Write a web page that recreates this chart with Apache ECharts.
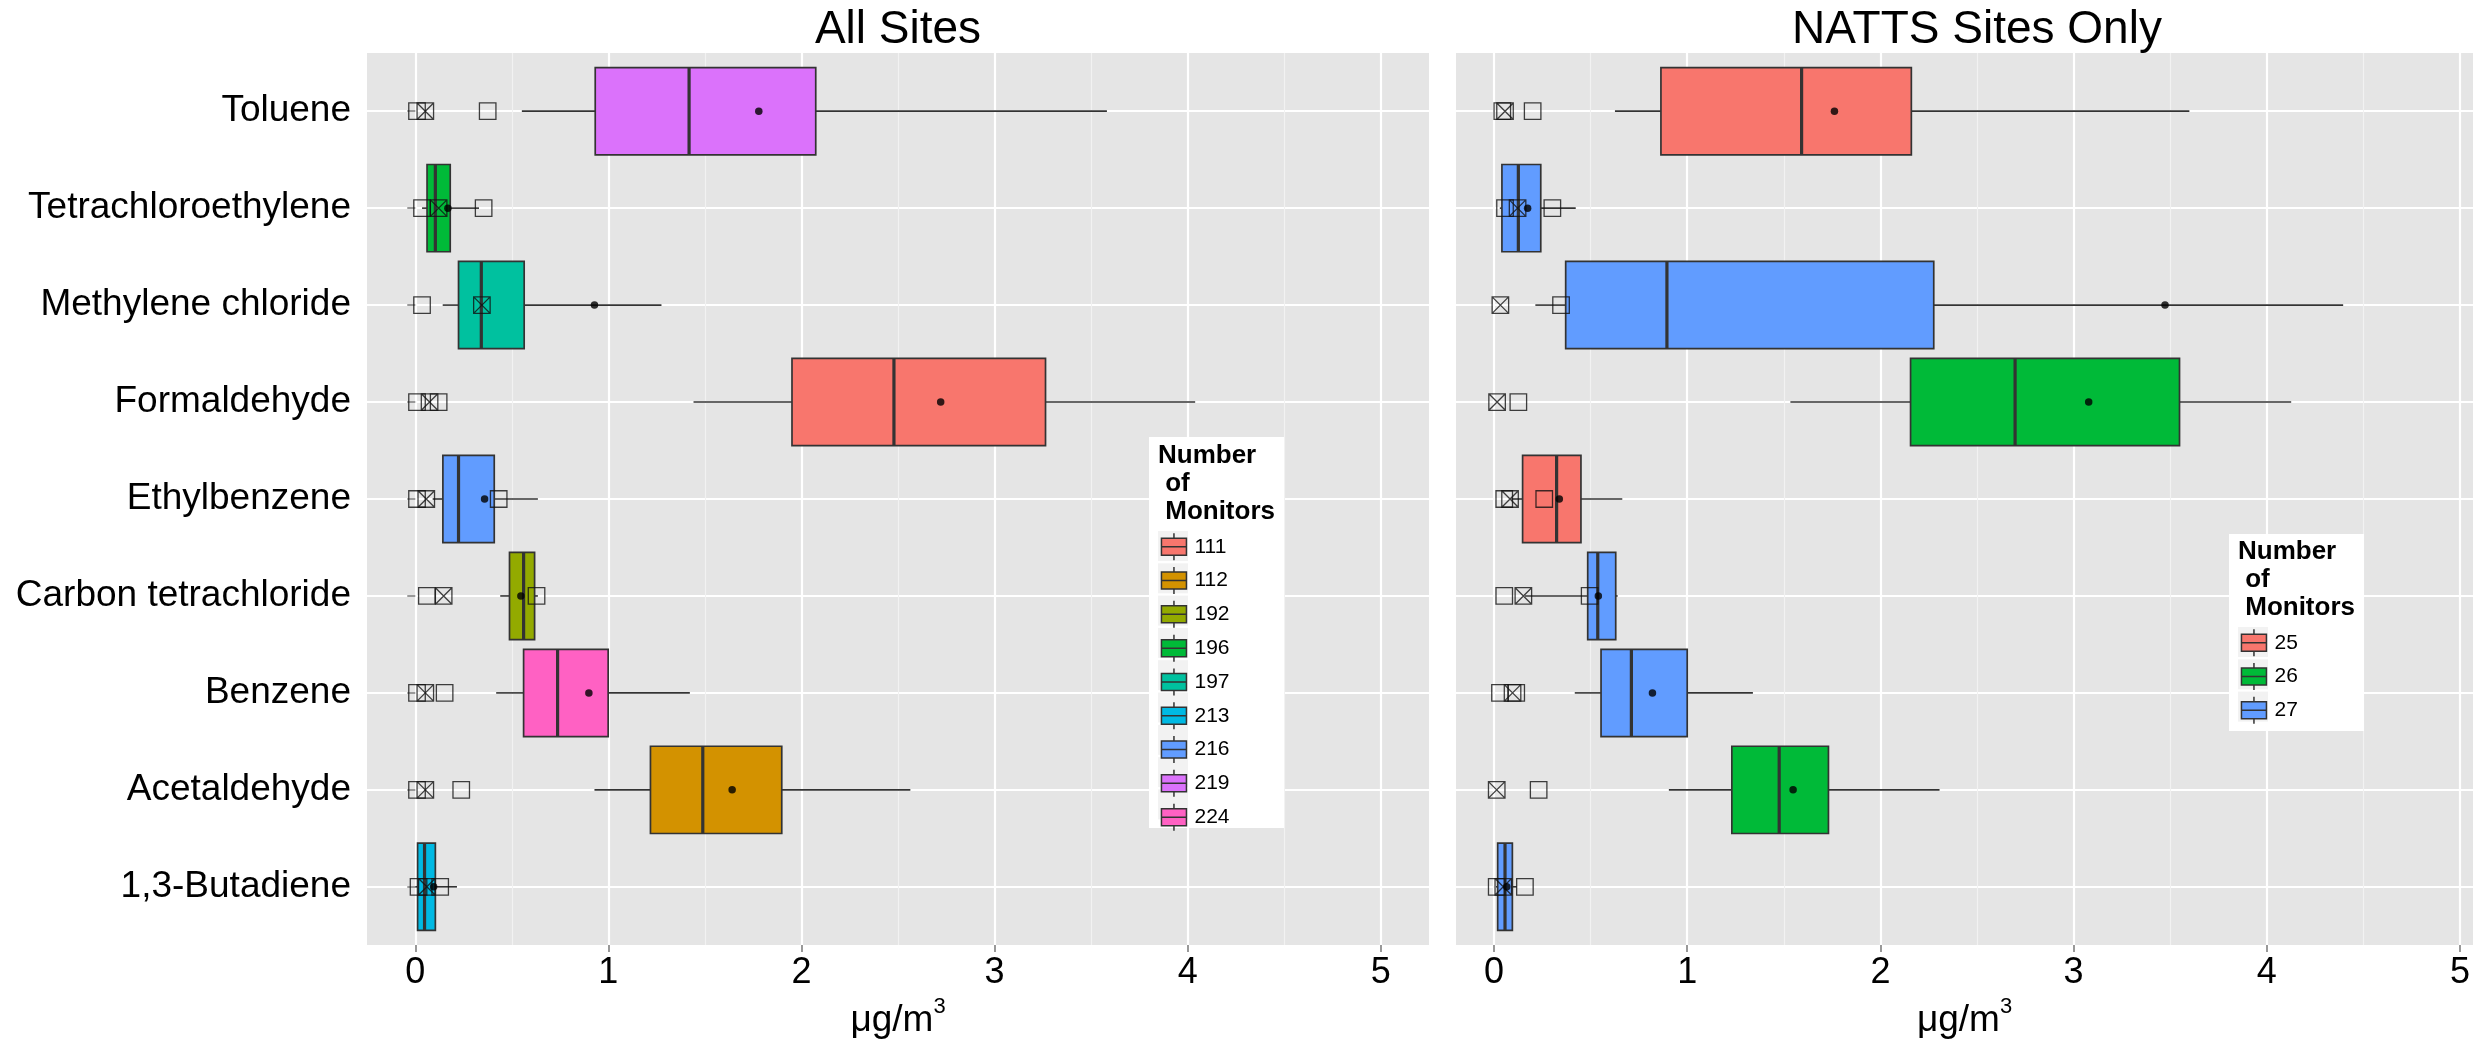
<!DOCTYPE html>
<html><head><meta charset="utf-8">
<script src="https://cdn.jsdelivr.net/npm/echarts@6/dist/echarts.min.js"></script>
<style>html,body{margin:0;padding:0;background:#fff}#c{width:2473px;height:1040px}</style>
</head><body><div id="c"></div>
<script>
// ---------------- data ----------------
const categories = ['1,3-Butadiene','Acetaldehyde','Benzene','Carbon tetrachloride','Ethylbenzene','Formaldehyde','Methylene chloride','Tetrachloroethylene','Toluene'];

// All Sites
const allLow    = [0.000, 0.928, 0.419, 0.440, 0.090, 1.441, 0.142, 0.035, 0.552];
const allQ1     = [0.012, 1.218, 0.561, 0.488, 0.143, 1.951, 0.224, 0.061, 0.932];
const allMedian = [0.048, 1.489, 0.737, 0.561, 0.224, 2.479, 0.342, 0.104, 1.418];
const allQ3     = [0.104, 1.898, 0.999, 0.618, 0.409, 3.264, 0.564, 0.181, 2.074];
const allHigh   = [0.216, 2.564, 1.422, 0.635, 0.635, 4.039, 1.275, 0.330, 3.582];
const allMean   = [0.095, 1.641, 0.899, 0.547, 0.359, 2.721, 0.928, 0.169, 1.779];
const allMonitors = [213, 112, 224, 192, 216, 111, 197, 196, 219];
const allOpenSquares  = [[0.017,0.129],[0.009,0.238],[0.009,0.152],[0.060,0.628],[0.009,0.432],[0.009,0.121],[0.035],[0.035,0.354],[0.009,0.375]];
const allCrossSquares = [0.060, 0.052, 0.052, 0.147, 0.057, 0.074, 0.345, 0.121, 0.052];
const allLevels = [111, 112, 192, 196, 197, 213, 216, 219, 224];
const allColors = ['#F8766D','#D39200','#93AA00','#00BA38','#00C19F','#00B9E3','#619CFF','#DB72FB','#FF61C3'];

// NATTS Sites Only
const nattsLow    = [0.010, 0.905, 0.418, 0.160, 0.090, 1.534, 0.214, 0.030, 0.626];
const nattsQ1     = [0.019, 1.231, 0.554, 0.485, 0.148, 2.156, 0.371, 0.041, 0.864];
const nattsMedian = [0.057, 1.476, 0.711, 0.537, 0.324, 2.697, 0.895, 0.126, 1.592];
const nattsQ3     = [0.095, 1.731, 1.000, 0.630, 0.450, 3.548, 2.276, 0.242, 2.160];
const nattsHigh   = [0.117, 2.306, 1.340, 0.640, 0.664, 4.126, 4.395, 0.423, 3.599];
const nattsMean   = [0.066, 1.548, 0.820, 0.540, 0.338, 3.078, 3.473, 0.174, 1.762];
const nattsMonitors = [27, 26, 27, 27, 25, 26, 27, 27, 25];
const nattsOpenSquares  = [[0.014,0.160],[0.231],[0.031,0.115],[0.053,0.495],[0.053,0.260],[0.126],[0.347],[0.057,0.302],[0.043,0.200]];
const nattsCrossSquares = [0.048, 0.014, 0.096, 0.152, 0.083, 0.016, 0.033, 0.122, 0.057];
const nattsLevels = [25, 26, 27];
const nattsColors = ['#F8766D','#00BA38','#619CFF'];

const xTicks = [0, 1, 2, 3, 4, 5];
const xMinorTicks = [0.5, 1.5, 2.5, 3.5, 4.5];
const yTicks = [1, 2, 3, 4, 5, 6, 7, 8, 9];

// ---------------- styling ----------------
const FONT = '"Liberation Sans", Arial, Helvetica, sans-serif';
const BOX_ICON = 'path://M12.5,0L12.5,5M0,5L25,5L25,22L0,22ZM0,13.5L25,13.5M12.5,22L12.5,27';
const CROSS_SQ = 'path://M0,0L10,0L10,10L0,10ZM0,0L10,10M10,0L0,10';
const OPEN_SQ = 'path://M0,0L10,0L10,10L0,10Z';

function renderBox(params, api) {
  const y = api.value(0);
  const pLo = api.coord([api.value(1), y]);
  const pQ1 = api.coord([api.value(2), y]);
  const pMd = api.coord([api.value(3), y]);
  const pQ3 = api.coord([api.value(4), y]);
  const pHi = api.coord([api.value(5), y]);
  const h = api.size([0, 0.9])[1];
  const cy = pQ1[1];
  const color = api.visual('color');
  return {
    type: 'group',
    children: [
      {type: 'line', shape: {x1: pLo[0], y1: cy, x2: pQ1[0], y2: cy}, style: {stroke: '#333333', lineWidth: 1.6}},
      {type: 'line', shape: {x1: pQ3[0], y1: cy, x2: pHi[0], y2: cy}, style: {stroke: '#333333', lineWidth: 1.6}},
      {type: 'rect', shape: {x: pQ1[0], y: cy - h / 2, width: pQ3[0] - pQ1[0], height: h},
        style: {fill: color, stroke: '#333333', lineWidth: 1.7}},
      {type: 'line', shape: {x1: pMd[0], y1: cy - h / 2, x2: pMd[0], y2: cy + h / 2}, style: {stroke: '#333333', lineWidth: 3.2}}
    ]
  };
}

function panelSeries(p) {
  const out = [];
  p.levels.forEach((lv, li) => {
    const data = [];
    categories.forEach((c, i) => {
      if (p.monitors[i] === lv) data.push([i + 1, p.low[i], p.q1[i], p.median[i], p.q3[i], p.high[i]]);
    });
    out.push({
      type: 'custom', name: String(lv), xAxisIndex: p.xAxisIndex, yAxisIndex: p.yAxisIndex,
      itemStyle: {color: p.colors[li]}, renderItem: renderBox,
      encode: {x: [1, 2, 3, 4, 5], y: 0}, data: data, z: 2, silent: true
    });
  });
  const openData = [];
  p.open.forEach((arr, i) => arr.forEach(v => openData.push([v, i + 1])));
  out.push({
    type: 'scatter', xAxisIndex: p.xAxisIndex, yAxisIndex: p.yAxisIndex, symbol: OPEN_SQ, symbolSize: 16.5,
    itemStyle: {color: 'rgba(0,0,0,0)', borderColor: '#111', borderWidth: 1.3}, data: openData, z: 3, silent: true
  });
  out.push({
    type: 'scatter', xAxisIndex: p.xAxisIndex, yAxisIndex: p.yAxisIndex, symbol: CROSS_SQ, symbolSize: 16.5,
    itemStyle: {color: 'rgba(0,0,0,0)', borderColor: '#111', borderWidth: 1.3},
    data: p.cross.map((v, i) => [v, i + 1]), z: 3, silent: true
  });
  out.push({
    type: 'scatter', xAxisIndex: p.xAxisIndex, yAxisIndex: p.yAxisIndex, symbol: 'circle', symbolSize: 7.5,
    itemStyle: {color: '#000'}, data: p.mean.map((v, i) => [v, i + 1]), z: 4, silent: true
  });
  return out;
}

const series = [].concat(
  panelSeries({levels: allLevels, colors: allColors, monitors: allMonitors, low: allLow, q1: allQ1, median: allMedian,
    q3: allQ3, high: allHigh, mean: allMean, open: allOpenSquares, cross: allCrossSquares, xAxisIndex: 0, yAxisIndex: 0}),
  panelSeries({levels: nattsLevels, colors: nattsColors, monitors: nattsMonitors, low: nattsLow, q1: nattsQ1, median: nattsMedian,
    q3: nattsQ3, high: nattsHigh, mean: nattsMean, open: nattsOpenSquares, cross: nattsCrossSquares, xAxisIndex: 2, yAxisIndex: 1})
);

function majorX(gridIndex, min, max) {
  return {
    type: 'value', gridIndex, min, max, position: 'bottom',
    name: 'μg/m{s|3}', nameLocation: 'middle', nameGap: 45,
    nameTextStyle: {color: '#000', fontFamily: FONT,
      rich: {s: {fontSize: 22, lineHeight: 22, verticalAlign: 'top', fontFamily: FONT, color: '#000'}},
      fontSize: 37, lineHeight: 50, verticalAlign: 'bottom'},
    axisLine: {show: false},
    axisTick: {show: true, customValues: xTicks, length: 7, lineStyle: {color: '#7f7f7f', width: 1.6}},
    axisLabel: {customValues: xTicks, fontSize: 36, color: '#000', fontFamily: FONT, margin: 10},
    splitLine: {show: true, lineStyle: {color: '#ffffff', width: 2.2}}
  };
}
function minorX(gridIndex, min, max) {
  return {
    type: 'value', gridIndex, min, max, position: 'top',
    axisLine: {show: false}, axisLabel: {show: false},
    axisTick: {show: false, customValues: xMinorTicks},
    splitLine: {show: true, lineStyle: {color: '#F2F2F2', width: 1.1}}
  };
}

const option = {
  animation: false,
  backgroundColor: '#ffffff',
  textStyle: {fontFamily: FONT},
  grid: [
    {left: 367, top: 53, width: 1062, height: 892, show: true, backgroundColor: '#E5E5E5', borderWidth: 0,
      containLabel: false, outerBoundsMode: 'none'},
    {left: 1456, top: 53, width: 1017, height: 892, show: true, backgroundColor: '#E5E5E5', borderWidth: 0,
      containLabel: false, outerBoundsMode: 'none'}
  ],
  xAxis: [
    majorX(0, -0.25, 5.25), minorX(0, -0.25, 5.25),
    majorX(1, -0.1967, 5.067), minorX(1, -0.1967, 5.067)
  ],
  yAxis: [
    {type: 'value', gridIndex: 0, min: 0.4, max: 9.6, axisLine: {show: false},
      axisTick: {show: true, customValues: yTicks, length: 8, lineStyle: {color: '#7f7f7f', width: 1.6}},
      axisLabel: {customValues: yTicks, formatter: v => categories[Math.round(v) - 1] || '', fontSize: 37, color: '#000', fontFamily: FONT, margin: 16},
      splitLine: {show: true, lineStyle: {color: '#ffffff', width: 2.2}}},
    {type: 'value', gridIndex: 1, min: 0.4, max: 9.6, axisLine: {show: false},
      axisTick: {show: false, customValues: yTicks}, axisLabel: {show: false, customValues: yTicks},
      splitLine: {show: true, lineStyle: {color: '#ffffff', width: 2.2}}}
  ],
  legend: [
    {orient: 'vertical', left: 1160.7, top: 532.5, padding: 0, itemWidth: 25, itemHeight: 27, itemGap: 5.3,
      selectedMode: false, z: 10,
      data: allLevels.map((lv, i) => ({name: String(lv), icon: BOX_ICON,
        itemStyle: {color: allColors[i], borderColor: '#333333', borderWidth: 1.5}})),
      textStyle: {fontSize: 21, color: '#000', fontFamily: FONT, padding: [0, 0, 0, 3]}},
    {orient: 'vertical', left: 2240.7, top: 628.5, padding: 0, itemWidth: 25, itemHeight: 27, itemGap: 5.3,
      selectedMode: false, z: 10,
      data: nattsLevels.map((lv, i) => ({name: String(lv), icon: BOX_ICON,
        itemStyle: {color: nattsColors[i], borderColor: '#333333', borderWidth: 1.5}})),
      textStyle: {fontSize: 21, color: '#000', fontFamily: FONT, padding: [0, 0, 0, 3]}}
  ],
  graphic: (function () {
    const els = [];
    els.push({type: 'text', x: 898, y: 30, z: 10, style: {text: 'All Sites', font: '46px ' + FONT, fill: '#000', textAlign: 'center', textVerticalAlign: 'middle'}});
    els.push({type: 'text', x: 1977, y: 30, z: 10, style: {text: 'NATTS Sites Only', font: '46px ' + FONT, fill: '#000', textAlign: 'center', textVerticalAlign: 'middle'}});
    const legends = [
      {x: 1149, y: 437, w: 135, h: 391, keyX: 1158, keyTop: 532.5, n: allLevels.length, titleY: 442},
      {x: 2229, y: 534, w: 135, h: 197, keyX: 2238, keyTop: 628.5, n: nattsLevels.length, titleY: 537.5}
    ];
    legends.forEach(L => {
      els.push({type: 'rect', z: 5, shape: {x: L.x, y: L.y, width: L.w, height: L.h}, style: {fill: '#ffffff'}});
      for (let i = 0; i < L.n; i++) {
        const cy = L.keyTop + 13.5 + i * 32.3;
        els.push({type: 'rect', z: 6, shape: {x: L.keyX, y: cy - 15, width: 30, height: 30}, style: {fill: '#F2F2F2'}});
      }
      els.push({type: 'text', z: 10, x: L.keyX, y: L.titleY,
        style: {text: 'Number\n of\n Monitors', font: 'bold 26px ' + FONT, lineHeight: 28, fill: '#000', textAlign: 'left', textVerticalAlign: 'top'}});
    });
    return els;
  })(),
  series: series
};

const chart = echarts.init(document.getElementById('c'), null, {renderer: 'canvas'});
chart.setOption(option);
</script>
</body></html>
